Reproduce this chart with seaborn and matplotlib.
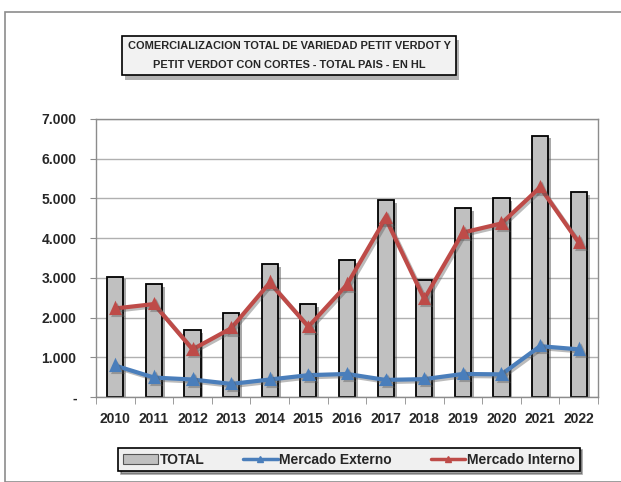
import numpy as np
import pandas as pd
import matplotlib
matplotlib.use("Agg")
import matplotlib.pyplot as plt
import matplotlib.patheffects as pe
from matplotlib.patches import Rectangle
from matplotlib.ticker import FuncFormatter, FixedLocator
import seaborn as sns

# ================= Datos =================
years = ["2010", "2011", "2012", "2013", "2014", "2015", "2016",
         "2017", "2018", "2019", "2020", "2021", "2022"]
total = [3030, 2850, 1690, 2110, 3350, 2340, 3450, 4960, 2950, 4750, 5000, 6580, 5150]
externo = [790, 490, 440, 330, 440, 550, 580, 430, 450, 580, 570, 1280, 1200]
interno = [2230, 2340, 1200, 1730, 2880, 1770, 2830, 4500, 2470, 4140, 4370, 5280, 3890]

df = pd.DataFrame({"year": years, "TOTAL": total,
                   "Mercado Externo": externo, "Mercado Interno": interno})

sns.set_style("white")
plt.rcParams["font.family"] = ["Liberation Sans", "DejaVu Sans"]
plt.rcParams["font.weight"] = "bold"

fig = plt.figure(figsize=(6.21, 4.82), dpi=100)
W, H = 621, 482
ax = fig.add_axes([96 / W, 1 - 397 / H, (598 - 96) / W, (397 - 119) / H])

# marco exterior
fig.patches.append(Rectangle((5 / W, 0), 1, 1 - 12 / H, transform=fig.transFigure,
                             fill=False, edgecolor="#8c8c8c", lw=1.2, zorder=0))

shadow = [pe.SimplePatchShadow(offset=(2, -2), shadow_rgbFace="#555555", alpha=0.5), pe.Normal()]
lshadow = [pe.SimpleLineShadow(offset=(1.5, -1.5), shadow_color="#555555", alpha=0.4), pe.Normal()]

# ── Barras TOTAL ────────────────────────────────────
sns.barplot(data=df, x="year", y="TOTAL", ax=ax, color="#c0c0c0",
            edgecolor="black", linewidth=1.3, width=0.42, saturation=1, zorder=2)
for p in ax.patches:
    p.set_path_effects(shadow)

# ── Líneas ──────────────────────────────────────────
sns.pointplot(data=df, x="year", y="Mercado Externo", ax=ax, color="#4a7ebb",
              markers="^", markersize=6, linewidth=3, zorder=4)
sns.pointplot(data=df, x="year", y="Mercado Interno", ax=ax, color="#be4b48",
              markers="^", markersize=6, linewidth=3, zorder=4)
for ln in ax.lines:
    ln.set_path_effects(lshadow)

ax.set_ylim(0, 7000)
ax.set_xlim(-0.5, len(years) - 0.5)
ax.set_yticks(np.arange(0, 7001, 1000))
ax.yaxis.set_major_formatter(FuncFormatter(
    lambda v, _: "-" if v == 0 else f"{int(v):,}".replace(",", ".")))
ax.set_xlabel("")
ax.set_ylabel("")
ax.grid(axis="y", color="#b0b0b0", lw=1)
ax.set_axisbelow(True)
for s in ax.spines.values():
    s.set_color("#8c8c8c")
    s.set_linewidth(1)

ax.tick_params(axis="x", length=0, pad=11, labelsize=10)
ax.tick_params(axis="y", length=4, color="#8c8c8c", pad=10, labelsize=10, left=True)
ax.xaxis.set_minor_locator(FixedLocator(np.arange(-0.5, len(years), 1)))
ax.tick_params(axis="x", which="minor", length=5, color="#8c8c8c", bottom=True)
for t in ax.get_xticklabels() + ax.get_yticklabels():
    t.set_fontweight("bold")

# ── Título ──────────────────────────────────────────
title = fig.text((130 + 448) / 2 / W, 1 - 55.5 / H,
                 "COMERCIALIZACION TOTAL DE VARIEDAD PETIT VERDOT Y\nPETIT VERDOT CON CORTES - TOTAL PAIS - EN HL",
                 ha="center", va="center", fontsize=7.9, fontweight="bold", linespacing=2.1,
                 bbox=dict(boxstyle="square,pad=0.5", facecolor="#f2f2f2", edgecolor="black", lw=1.2))
fig.canvas.draw()
title.get_bbox_patch().set_path_effects(
    [pe.SimplePatchShadow(offset=(2, -3), shadow_rgbFace="#555555", alpha=0.45), pe.Normal()])

# ── Leyenda ─────────────────────────────────────────
handles = [Rectangle((0, 0), 1, 1, facecolor="#c0c0c0", edgecolor="#555555", lw=0.8),
           plt.Line2D([], [], color="#4a7ebb", lw=2.5, marker="^", markersize=5),
           plt.Line2D([], [], color="#be4b48", lw=2.5, marker="^", markersize=5)]
leg = fig.legend(handles, ["TOTAL", "Mercado Externo", "Mercado Interno"],
                 loc="center", bbox_to_anchor=(349 / W, 1 - 459.5 / H), ncol=3,
                 frameon=True, fancybox=False, shadow=True, facecolor="#f0f0f0",
                 edgecolor="black", prop={"weight": "bold", "size": 10},
                 handlelength=2.5, columnspacing=2.8, handletextpad=0.1,
                 borderpad=0.35)
leg.get_frame().set_linewidth(1.2)

fig.savefig("out.png", dpi=100)
